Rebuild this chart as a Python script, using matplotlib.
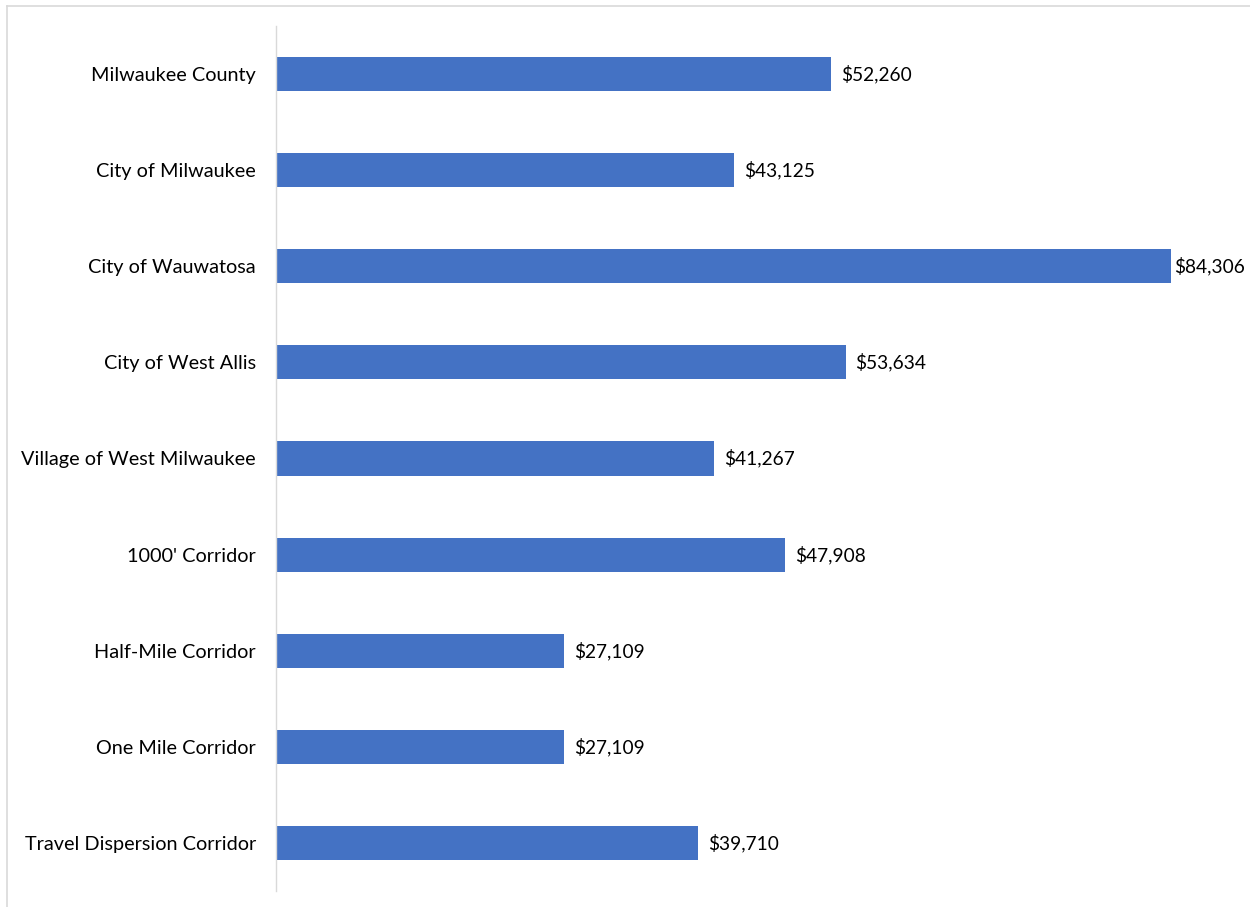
import matplotlib.pyplot as plt

plt.rcParams['font.family'] = ['Lato', 'DejaVu Sans']

categories = ['Milwaukee County', 'City of Milwaukee', 'City of Wauwatosa',
              'City of West Allis', 'Village of West Milwaukee', "1000' Corridor",
              'Half-Mile Corridor', 'One Mile Corridor', 'Travel Dispersion Corridor']
incomes = [52260, 43125, 84306, 53634, 41267, 47908, 27109, 27109, 39710]

W, H = 1250, 907
fig = plt.figure(figsize=(W / 100, H / 100), dpi=100)

# axes placed in pixel terms
left, right, top, bottom = 276, 1240, 26, 891
ax = fig.add_axes([left / W, 1 - bottom / H, (right - left) / W, (bottom - top) / H])

px_per_dollar = (831 - 276) / 52260
xmax = (right - left) / px_per_dollar

y = list(range(len(categories)))
bars = ax.barh(y, incomes, height=0.355, color='#4472C4')
ax.set_ylim(len(categories) - 0.5, -0.5)
ax.set_xlim(0, xmax)

for b, v in zip(bars, incomes):
    # label sits 10px past bar end; the longest one is pulled in to fit
    gap = 3 if v == max(incomes) else 10
    ax.text(b.get_width() + gap / px_per_dollar, b.get_y() + b.get_height() / 2,
            f'${v:,}', va='center', ha='left', fontsize=13.8, color='#000000')

ax.set_yticks(y)
ax.set_yticklabels(categories, fontsize=14.3, color='#000000')
ax.tick_params(axis='y', length=0, pad=14.5)
ax.set_xticks([])
for s in ['top', 'right', 'bottom']:
    ax.spines[s].set_visible(False)
ax.spines['left'].set_color('#D9D9D9')
ax.spines['left'].set_linewidth(1)

# outer chart border (top and left edges visible)
fig.add_artist(plt.Line2D([7 / W, 1], [1 - 6 / H, 1 - 6 / H], color='#D9D9D9', lw=1.2,
                          transform=fig.transFigure))
fig.add_artist(plt.Line2D([7 / W, 7 / W], [0, 1 - 6 / H], color='#D9D9D9', lw=1.2,
                          transform=fig.transFigure))

fig.savefig('out.png', dpi=100)
